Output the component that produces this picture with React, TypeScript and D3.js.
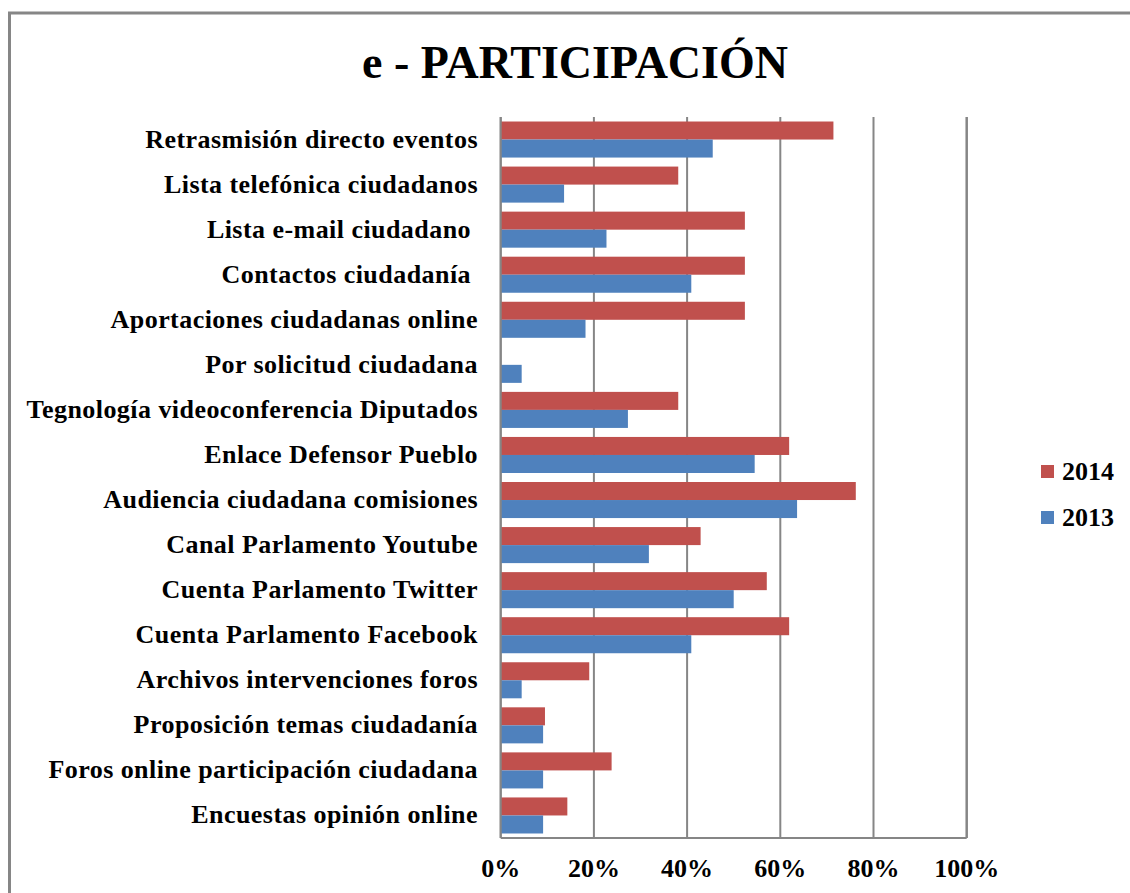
import * as d3 from 'd3';

const categories = [
  'Retrasmisión directo eventos',
  'Lista telefónica ciudadanos',
  'Lista e-mail ciudadano ',
  'Contactos ciudadanía ',
  'Aportaciones ciudadanas online',
  'Por solicitud ciudadana',
  'Tegnología videoconferencia Diputados',
  'Enlace Defensor Pueblo',
  'Audiencia ciudadana comisiones',
  'Canal Parlamento Youtube',
  'Cuenta Parlamento Twitter',
  'Cuenta Parlamento Facebook',
  'Archivos intervenciones foros',
  'Proposición temas ciudadanía',
  'Foros online participación ciudadana',
  'Encuestas opinión online',
];

// % of parliaments
const values2014 = [71.4, 38.1, 52.4, 52.4, 52.4, 0, 38.1, 61.9, 76.2, 42.9, 57.1, 61.9, 19.0, 9.5, 23.8, 14.3];
const values2013 = [45.5, 13.6, 22.7, 40.9, 18.2, 4.5, 27.3, 54.5, 63.6, 31.8, 50.0, 40.9, 4.5, 9.1, 9.1, 9.1];

const seriesNames = ['2014', '2013'];
const seriesColors = ['#C0504D', '#4F81BD'];
const xTicks = [0, 20, 40, 60, 80, 100];

const W = 1130;
const H = 893;
const PLOT = { left: 500.7, right: 966.7, top: 117, bottom: 838 };
const FONT = '"Liberation Serif", "Times New Roman", serif';
const GRID = '#868686';

export default function App() {
  const x = d3.scaleLinear().domain([0, 100]).range([PLOT.left, PLOT.right]);
  const y = d3.scaleBand<string>().domain(categories).range([PLOT.top, PLOT.bottom])
    .paddingInner(0.2).paddingOuter(0.1);
  const sub = d3.scaleBand<string>().domain(seriesNames).range([0, y.bandwidth()]);
  const series = [values2014, values2013];

  return (
    <div style={{ position: 'absolute', left: 0, top: 0, width: W, height: H, background: '#fff' }}>
      <svg width={W} height={H} style={{ display: 'block' }} fontFamily={FONT}>
        <rect x={0} y={0} width={W} height={H} fill="#fff" />
        {/* outer chart frame */}
        <rect x={9.5} y={13} width={W + 20} height={H + 20} fill="none" stroke={GRID} strokeWidth={3} />

        <text x={575} y={78} textAnchor="middle" fontSize={46} fontWeight="bold" fill="#000">
          e - PARTICIPACIÓN
        </text>

        {/* gridlines */}
        {xTicks.map(t => (
          <line key={t} x1={x(t)} x2={x(t)} y1={PLOT.top} y2={PLOT.bottom}
            stroke={GRID} strokeWidth={t === 100 ? 2.5 : 2} />
        ))}
        <line x1={PLOT.left} x2={PLOT.right} y1={PLOT.bottom} y2={PLOT.bottom} stroke={GRID} strokeWidth={2} />

        {/* bars */}
        {categories.map((c, i) => (
          <g key={c} transform={`translate(0,${y(c)})`}>
            {seriesNames.map((s, j) => (
              <rect key={s} x={x(0)} y={sub(s)} width={x(series[j][i]) - x(0)} height={sub.bandwidth()}
                fill={seriesColors[j]} />
            ))}
          </g>
        ))}
        <line x1={PLOT.left} x2={PLOT.left} y1={PLOT.top} y2={PLOT.bottom} stroke={GRID} strokeWidth={2} />

        {/* category labels */}
        {categories.map(c => (
          <text key={c} x={478} y={(y(c) as number) + y.bandwidth() / 2 + 8} textAnchor="end"
            fontSize={26} fontWeight="bold" fill="#000" letterSpacing={0.45} style={{ whiteSpace: 'pre' }}>
            {c}
          </text>
        ))}

        {/* x tick labels */}
        {xTicks.map(t => (
          <text key={t} x={x(t)} y={877} textAnchor="middle" fontSize={26} fontWeight="bold" fill="#000">
            {`${t}%`}
          </text>
        ))}

        {/* legend */}
        {seriesNames.map((s, j) => (
          <g key={s} transform={`translate(1041,${465 + j * 46})`}>
            <rect x={0} y={0} width={13} height={13} fill={seriesColors[j]} />
            <text x={21} y={15} fontSize={26} fontWeight="bold" fill="#000">{s}</text>
          </g>
        ))}
      </svg>
    </div>
  );
}
